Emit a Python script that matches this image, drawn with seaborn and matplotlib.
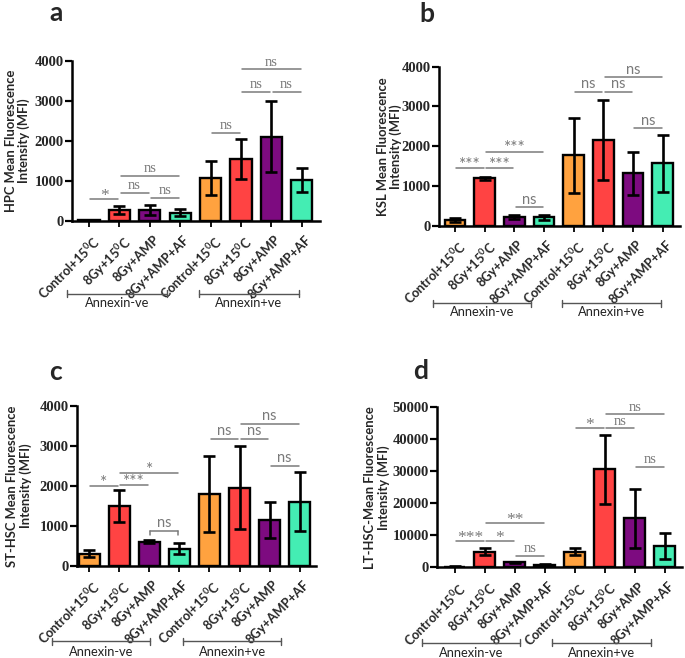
import numpy as np
import pandas as pd
import matplotlib
matplotlib.use("Agg")
import matplotlib.pyplot as plt
import matplotlib.transforms as mtransforms
import seaborn as sns

# ---------------- data ----------------
conditions = ["Control+15$^0$C", "8Gy+15$^0$C", "8Gy+AMP", "8Gy+AMP+AF"]
groups = ["Annexin-ve", "Annexin+ve"]
bar_colors = ["#FFA23F", "#FF4343", "#7D0B80", "#44EDB3"]

hpc_mean = [20, 280, 270, 210, 1080, 1540, 2110, 1030]
hpc_sem = [10, 100, 125, 80, 430, 500, 890, 300]

ksl_mean = [150, 1195, 220, 210, 1770, 2155, 1315, 1570]
ksl_sem = [50, 35, 40, 70, 950, 1005, 545, 715]

sthsc_mean = [310, 1500, 610, 435, 1800, 1960, 1150, 1610]
sthsc_sem = [80, 390, 40, 130, 950, 1030, 440, 740]

lthsc_mean = [200, 4900, 1560, 730, 4900, 30600, 15300, 6650]
lthsc_sem = [100, 1000, 250, 400, 1000, 10700, 9300, 4000]

# significance brackets: (bar i, bar j, height, label)
hpc_sig = [(0, 1, 540, "*"), (1, 2, 707, "ns"), (2, 3, 582, "ns"), (1, 3, 1123, "ns"),
           (4, 5, 2212, "ns"), (5, 6, 3227, "ns"), (6, 7, 3227, "ns"), (5, 7, 3792, "ns")]
ksl_sig = [(0, 1, 1442, "***"), (1, 2, 1442, "***"), (1, 3, 1862, "***"), (2, 3, 461, "ns"),
           (4, 5, 3371, "ns"), (5, 6, 3371, "ns"), (5, 7, 3732, "ns"), (6, 7, 2449, "ns")]
sthsc_sig = [(0, 1, 2000, "*"), (1, 2, 2030, "***"), (1, 3, 2317, "*"), (2, 3, 875, "ns"),
             (4, 5, 3175, "ns"), (5, 6, 3175, "ns"), (5, 7, 3550, "ns"), (6, 7, 2500, "ns")]
lthsc_sig = [(0, 1, 8229, "***"), (1, 2, 8229, "*"), (1, 3, 13750, "**"), (2, 3, 3541, "ns"),
             (4, 5, 43437, "*"), (5, 6, 43437, "ns"), (5, 7, 47812, "ns"), (6, 7, 31458, "ns")]

ylabels = ["HPC Mean Fluorescence\nIntensity (MFI)",
           "KSL Mean Fluorescence\nIntensity (MFI)",
           "ST-HSC Mean Fluorescence\nIntensity (MFI)",
           "LT-HSC-Mean Fluorescence\nIntensity (MFI)"]
panel_letters = ["a", "b", "c", "d"]
ymax = [4000, 4000, 4000, 50000]
ystep = [1000, 1000, 1000, 10000]

# ---------------- style / layout ----------------
sns.set_style("ticks")
plt.rcParams["font.family"] = ["Lato", "DejaVu Sans"]
plt.rcParams["font.weight"] = "bold"
plt.rcParams["mathtext.fontset"] = "custom"
plt.rcParams["mathtext.bf"] = "Lato:bold"
plt.rcParams["mathtext.rm"] = "Lato:bold"
plt.rcParams["mathtext.it"] = "Lato:bold"
plt.rcParams["mathtext.default"] = "bf"
plt.rcParams["xtick.labelsize"] = 9.2
plt.rcParams["ytick.labelsize"] = 10.5

W, H = 685, 658
layout = [
    dict(box=(72, 61, 320, 221), xlim=(-0.56, 7.6), ylx=-0.22,
         spans=[(-0.72, 2.57), (3.62, 6.9)], gy=(-0.456, -0.5125), letter=(56, 21), sigserif=True),
    dict(box=(439, 66.7, 680, 225.7), xlim=(-0.54, 7.58), ylx=-0.205,
         spans=[(-0.74, 2.56), (3.6, 6.94)], gy=(-0.489, -0.543), letter=(427, 22), sigserif=False),
    dict(box=(77, 406, 316, 566), xlim=(-0.4, 7.54), ylx=-0.243,
         spans=[(-1.23, 2.03), (3.12, 6.38)], gy=(-0.469, -0.5375), letter=(55, 380), sigserif=False),
    dict(box=(437, 407.3, 682, 567.3), xlim=(-0.6, 7.57), ylx=-0.245,
         spans=[(-1.1, 2.17), (3.23, 6.53)], gy=(-0.473, -0.536), letter=(421, 379), sigserif=True),
]

means = [hpc_mean, ksl_mean, sthsc_mean, lthsc_mean]
sems = [hpc_sem, ksl_sem, sthsc_sem, lthsc_sem]
sigs = [hpc_sig, ksl_sig, sthsc_sig, lthsc_sig]

fig = plt.figure(figsize=(W / 100, H / 100), dpi=100)
grey = "#7a7a7a"

for k in range(4):
    L = layout[k]
    x0, yt, x1, yb = L["box"]
    ax = fig.add_axes([x0 / W, 1 - yb / H, (x1 - x0) / W, (yb - yt) / H])

    keys = [f"{g} {c}" for g in groups for c in conditions]
    df = pd.DataFrame({"key": keys, "mfi": means[k], "sem": sems[k],
                       "cond": conditions * 2})
    sns.barplot(data=df, x="key", y="mfi", hue="cond", hue_order=conditions,
                order=keys, palette=bar_colors, saturation=1, width=0.7, dodge=False,
                edgecolor="black", linewidth=1.7, legend=False, ax=ax, zorder=2)
    xs = np.arange(len(keys))
    ax.errorbar(xs, df["mfi"], yerr=df["sem"], fmt="none", ecolor="black",
                elinewidth=1.9, capsize=4.2, capthick=1.9, zorder=4)

    ax.set_xlim(*L["xlim"])
    ax.set_ylim(0, ymax[k])
    ax.set_yticks(np.arange(0, ymax[k] + 1, ystep[k]))
    ax.set_yticklabels([str(v) for v in np.arange(0, ymax[k] + 1, ystep[k])])
    ax.set_xticks(xs)
    ax.set_xticklabels(conditions * 2, rotation=45, ha="right", va="top",
                       rotation_mode="anchor")
    ax.tick_params(axis="y", length=5, width=1.6, pad=1, color="black",
                   labelfontfamily="Liberation Serif", labelsize=10.5)
    ax.tick_params(axis="x", length=4, width=1.3, pad=3, color="black", labelsize=9.2)
    off = mtransforms.ScaledTranslation(3 / 100, -3 / 100, fig.dpi_scale_trans)
    for t in ax.get_xticklabels():
        t.set_transform(t.get_transform() + off)
    ax.set_xlabel("")
    ax.set_ylabel("")
    for s in ["top", "right"]:
        ax.spines[s].set_visible(False)
    for s in ["left", "bottom"]:
        ax.spines[s].set_linewidth(1.8)
        ax.spines[s].set_color("black")

    ax.text(L["ylx"], 0.5, ylabels[k], transform=ax.transAxes, rotation=90,
            ha="center", va="center", fontsize=9.4, fontweight="bold",
            multialignment="center", linespacing=1.1)

    # significance brackets
    sigfont = "Liberation Serif" if L["sigserif"] else "Lato"
    for (i, j, h, lab) in sigs[k]:
        ax.plot([i + 0.04, j - 0.04], [h, h], color=grey, lw=1.1, clip_on=False, zorder=5)
        if k == 2 and lab == "ns" and (i, j) == (2, 3):
            d = ymax[k] * 0.025
            ax.plot([i + 0.04, i + 0.04], [h, h - d], color=grey, lw=1.1, clip_on=False)
            ax.plot([j - 0.04, j - 0.04], [h, h - d], color=grey, lw=1.1, clip_on=False)
        if lab == "ns":
            ax.text((i + j) / 2, h + ymax[k] * 0.004, lab, ha="center", va="bottom",
                    color=grey, fontsize=10.5, fontfamily=sigfont, fontweight="normal",
                    clip_on=False, zorder=5)
        else:
            ax.text((i + j) / 2, h - ymax[k] * 0.03, lab, ha="center", va="bottom",
                    color=grey, fontsize=12.5, fontfamily=sigfont, fontweight="normal",
                    clip_on=False, zorder=5)

    # group brackets below axis
    tr = mtransforms.blended_transform_factory(ax.transData, ax.transAxes)
    gl, gt = L["gy"]
    for (a0, a1), gname in zip(L["spans"], groups):
        ax.plot([a0, a1], [gl, gl], color="#555555", lw=1.0, transform=tr, clip_on=False)
        for xe in (a0, a1):
            ax.plot([xe, xe], [gl - 0.022, gl + 0.022], color="#555555", lw=1.0,
                    transform=tr, clip_on=False)
        ax.text((a0 + a1) / 2, gt, gname, transform=tr, ha="center", va="center",
                fontsize=9.3, fontweight="normal", color="#222222")

    lx, ly = L["letter"]
    fig.text(lx / W, 1 - ly / H, panel_letters[k], ha="center", va="baseline",
             fontsize=19, fontweight="bold")

fig.savefig("out.png", dpi=100)
